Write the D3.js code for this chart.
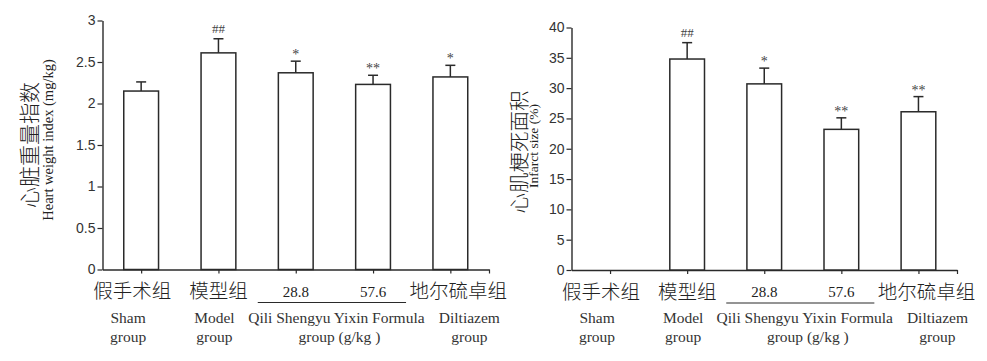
<!DOCTYPE html>
<html>
<head>
<meta charset="utf-8">
<script src="https://cdn.jsdelivr.net/npm/d3@7/dist/d3.min.js"></script>
<style>
  html, body { margin: 0; padding: 0; background: #fff; }
  svg { display: block; }
</style>
</head>
<body>
<svg id="chart" width="987" height="361"></svg>
<script>
// Group labels shared by both panels
const groupsCn = ["假手术组", "模型组", "28.8", "57.6", "地尔硫卓组"];
const groupsEn = [["Sham", "group"], ["Model", "group"], null, null, ["Diltiazem", "group"]];
const formulaEn = ["Qili Shengyu Yixin Formula", "group (g/kg )"];

// Heart weight index (mg/kg): mean, SD, significance marks
const heartIndex = [2.15, 2.61, 2.37, 2.23, 2.32];
const heartSd = [0.11, 0.17, 0.14, 0.11, 0.14];
const heartMarks = ["", "##", "*", "**", "*"];
const heartTicks = [0, 0.5, 1, 1.5, 2, 2.5, 3];

// Infarct size (%): mean, SD, significance marks
const infarctSize = [0, 34.8, 30.7, 23.2, 26.1];
const infarctSd = [0, 2.7, 2.6, 1.9, 2.5];
const infarctMarks = ["", "##", "*", "**", "**"];
const infarctTicks = [0, 5, 10, 15, 20, 25, 30, 35, 40];

const svg = d3.select("#chart");
const ink = "#2a2a2a";
const serif = "'Liberation Serif', 'Times New Roman', serif";

const panels = [
  { x0: 102.5, x1: 489, yTop: 20.5, yBottom: 269.5, max: 3, ticks: heartTicks,
    values: heartIndex, sd: heartSd, marks: heartMarks,
    titleCn: "心脏重量指数", titleEn: "Heart weight index (mg/kg)",
    cnX: 28, cnY: 145, enX: 48, enY: 140, enSize: 14.5, cnSize: 21 },
  { x0: 571.5, x1: 957, yTop: 27.5, yBottom: 270, max: 40, ticks: infarctTicks,
    values: infarctSize, sd: infarctSd, marks: infarctMarks,
    titleCn: "心肌梗死面积", titleEn: "Infarct size (%)",
    cnX: 518, cnY: 152, enX: 533, enY: 146, enSize: 13.5, cnSize: 20.5 }
];

// small horizontal nudges for the category captions under the axis
const cnShift = [-9, 0, 0, 0, 8];
const enShift = [-13, -4, 0, 0, 19];

panels.forEach(p => {
  const g = svg.append("g");

  const x = d3.scaleBand()
    .domain(d3.range(groupsCn.length))
    .range([p.x0, p.x1])
    .paddingInner(0.55)
    .paddingOuter(0.275);

  const y = d3.scaleLinear().domain([0, p.max]).range([p.yBottom, p.yTop]);

  // y axis
  const yAxis = g.append("g")
    .attr("transform", `translate(${p.x0},0)`)
    .call(d3.axisLeft(y).tickValues(p.ticks).tickSize(5).tickSizeOuter(0)
      .tickFormat(d => String(d)));
  yAxis.select(".domain").attr("stroke", ink).attr("stroke-width", 1.4);
  yAxis.selectAll(".tick line").attr("stroke", ink).attr("stroke-width", 1.2);
  yAxis.selectAll(".tick text")
    .attr("x", -7)
    .attr("fill", "#333")
    .style("font-family", "'Liberation Sans', Arial, sans-serif")
    .style("font-size", "14px");

  // x axis: ticks at category centres and at the far end
  const xTicks = d3.range(groupsCn.length).map(i => x(i) + x.bandwidth() / 2);
  xTicks.push(p.x1);
  const xLin = d3.scaleLinear().domain([p.x0, p.x1]).range([p.x0, p.x1]);
  const xAxis = g.append("g")
    .attr("transform", `translate(0,${p.yBottom})`)
    .call(d3.axisBottom(xLin).tickValues(xTicks).tickSize(4).tickSizeOuter(0).tickFormat(""));
  xAxis.select(".domain").attr("stroke", ink).attr("stroke-width", 1.4);
  xAxis.selectAll(".tick line").attr("stroke", ink).attr("stroke-width", 1.2);

  const idx = d3.range(p.values.length).filter(i => p.values[i] > 0);

  // bars
  g.selectAll("rect.bar").data(idx).join("rect")
    .attr("class", "bar")
    .attr("x", i => x(i))
    .attr("width", x.bandwidth())
    .attr("y", i => y(p.values[i]))
    .attr("height", i => y(0) - y(p.values[i]))
    .attr("fill", "#fff")
    .attr("stroke", ink)
    .attr("stroke-width", 1.5);

  // error bars (upper half only)
  const cx = i => x(i) + x.bandwidth() / 2;
  g.selectAll("line.err").data(idx).join("line")
    .attr("class", "err")
    .attr("x1", cx).attr("x2", cx)
    .attr("y1", i => y(p.values[i]))
    .attr("y2", i => y(p.values[i] + p.sd[i]))
    .attr("stroke", ink).attr("stroke-width", 1.5);
  g.selectAll("line.cap").data(idx).join("line")
    .attr("class", "cap")
    .attr("x1", i => cx(i) - 5).attr("x2", i => cx(i) + 5)
    .attr("y1", i => y(p.values[i] + p.sd[i]))
    .attr("y2", i => y(p.values[i] + p.sd[i]))
    .attr("stroke", ink).attr("stroke-width", 1.5);

  // significance marks
  g.selectAll("text.mark").data(idx.filter(i => p.marks[i])).join("text")
    .attr("class", "mark")
    .attr("x", cx)
    .attr("y", i => y(p.values[i] + p.sd[i]) - (p.marks[i].startsWith("#") ? 6 : 2))
    .attr("text-anchor", "middle")
    .attr("fill", "#444")
    .style("font-family", serif)
    .style("font-size", i => p.marks[i].startsWith("#") ? "13px" : "14px")
    .text(i => p.marks[i]);

  // category captions (Chinese / dose values)
  g.selectAll("text.cn").data(d3.range(groupsCn.length)).join("text")
    .attr("class", "cn")
    .attr("x", i => cx(i) + cnShift[i])
    .attr("y", i => /\d/.test(groupsCn[i]) ? p.yBottom + 27 : p.yBottom + 28.5)
    .attr("text-anchor", "middle")
    .attr("fill", "#222")
    .style("font-family", i => /\d/.test(groupsCn[i])
      ? serif
      : "'Noto Sans CJK SC', sans-serif")
    .style("font-weight", i => /\d/.test(groupsCn[i]) ? "normal" : "300")
    .style("font-size", i => /\d/.test(groupsCn[i]) ? "15px" : "19.5px")
    .text(i => groupsCn[i]);

  // bracket under the formula doses
  g.append("line")
    .attr("x1", cx(2) - 38).attr("x2", cx(3) + 33)
    .attr("y1", p.yBottom + 33).attr("y2", p.yBottom + 33)
    .attr("stroke", ink).attr("stroke-width", 1.2);

  // English captions
  groupsEn.forEach((lines, i) => {
    if (!lines) return;
    lines.forEach((t, k) => {
      g.append("text")
        .attr("x", cx(i) + enShift[i])
        .attr("y", p.yBottom + 53 + k * 19)
        .attr("text-anchor", "middle")
        .attr("fill", "#333")
        .style("font-family", serif)
        .style("font-size", "15.5px")
        .text(t);
    });
  });
  formulaEn.forEach((t, k) => {
    g.append("text")
      .attr("x", (cx(2) + cx(3)) / 2 + (k === 0 ? 2 : 5))
      .attr("y", p.yBottom + 53 + k * 19)
      .attr("text-anchor", "middle")
      .attr("fill", "#333")
      .style("font-family", serif)
      .style("font-size", "15.5px")
      .text(t);
  });

  // axis titles
  g.append("text")
    .attr("transform", `translate(${p.cnX},${p.cnY}) rotate(-90)`)
    .attr("text-anchor", "middle")
    .attr("dominant-baseline", "central")
    .attr("fill", "#222")
    .style("font-family", "'Noto Sans CJK SC', sans-serif")
    .style("font-weight", "300")
    .style("font-size", p.cnSize + "px")
    .text(p.titleCn);
  g.append("text")
    .attr("transform", `translate(${p.enX},${p.enY}) rotate(-90)`)
    .attr("text-anchor", "middle")
    .attr("dominant-baseline", "central")
    .attr("fill", "#222")
    .style("font-family", serif)
    .style("font-size", p.enSize + "px")
    .text(p.titleEn);
});
</script>
</body>
</html>
